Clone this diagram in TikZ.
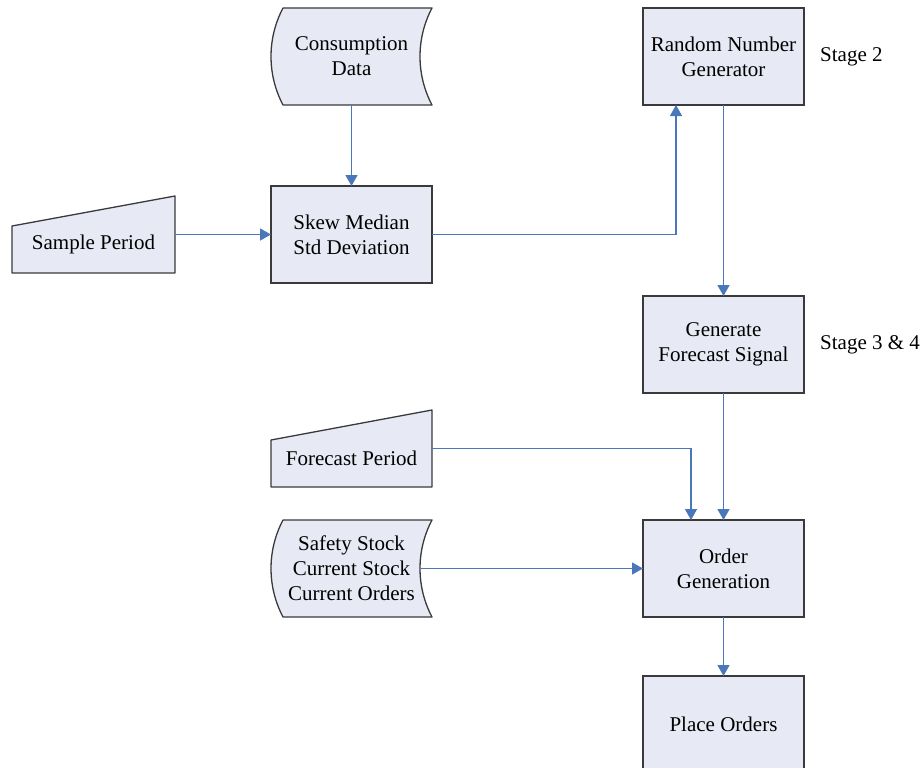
\documentclass[tikz,border=0pt]{standalone}
\usepackage{fontspec}
\setmainfont{Liberation Serif}
\usepackage{tikz}
\usetikzlibrary{positioning, arrows.meta, backgrounds}
\definecolor{boxfill}{HTML}{E7EAF4}
\definecolor{boxline}{HTML}{3A3A3A}
\definecolor{flowblue}{HTML}{4A76BA}
\tikzstyle{process} = [rectangle, minimum width=161pt, minimum height=97pt, align=center, draw=boxline, fill=boxfill, line width=1.3pt, outer sep=0pt]
\tikzstyle{datastore} = [rectangle, minimum width=161pt, minimum height=97pt, align=center, outer sep=0pt]
\tikzstyle{manual} = [rectangle, minimum width=161pt, minimum height=77pt, outer sep=0pt]
\tikzstyle{stagelabel} = [inner sep=0pt, anchor=west]
\tikzstyle{shapeline} = [draw=boxline, fill=boxfill, line width=1.3pt, line join=round]
\tikzstyle{flow} = [draw=flowblue, line width=1.3pt, -{Triangle[length=11pt,width=12pt]}]
% stored data outline round a datastore node
\newcommand{\storeddata}[1]{%
  \path[shapeline] ([xshift=12pt]#1.north west) -- (#1.north east)
    arc[start angle=152.2, end angle=207.8, radius=104pt]
    -- ([xshift=12pt]#1.south west)
    arc[start angle=207.8, end angle=152.2, radius=104pt] -- cycle;}
% manual input outline round a manual node
\newcommand{\manualinput}[1]{%
  \path[shapeline] ([yshift=-30pt]#1.north west) -- (#1.north east) -- (#1.south east) -- (#1.south west) -- cycle;}

\begin{document}
\begin{tikzpicture}[every node/.style={font=\fontsize{21}{25}\selectfont}]
    \useasboundingbox (0,0) rectangle (924pt,-768pt);
    \node[datastore] (cons) at (351.5pt,-56.5pt) {Consumption\\Data};
    \node[process, right=211pt of cons] (rng) {Random Number\\Generator};
    \node[stagelabel, right=16pt of rng] (stage2) {Stage 2};
    \node[process, below=81pt of cons] (skew) {Skew Median\\Std Deviation};
    \node[manual, minimum width=163pt, left=96pt of skew] (sample) {};
    \node (sampletxt) at ([yshift=-10pt]sample.center) {Sample Period};
    \node[process, below=191pt of rng] (gen) {Generate\\Forecast Signal};
    \node[stagelabel, right=16pt of gen] (stage34) {Stage 3 \& 4};
    \node[manual, below=127pt of skew] (fcst) {};
    \node (fcsttxt) at ([yshift=-10pt]fcst.center) {Forecast Period};
    \node[process, below=127pt of gen] (order) {Order\\Generation};
    \node[datastore, left=211pt of order] (safety) {Safety Stock\\Current Stock\\Current Orders};
    \node[process, below=59pt of order] (place) {Place Orders};

    \begin{scope}[on background layer]
        \storeddata{cons}
        \storeddata{safety}
        \manualinput{sample}
        \manualinput{fcst}
    \end{scope}

    \draw[flow] (cons) -- (skew);
    \draw[flow] (sample) -- (skew);
    \draw[flow] (skew.east) -| ([xshift=-47.5pt]rng.south);
    \draw[flow] (rng) -- (gen);
    \draw[flow] (gen) -- (order);
    \draw[flow] (fcst.east) -| ([xshift=-32.5pt]order.north);
    \draw[flow] ([xshift=-11pt]safety.east) -- (order);
    \draw[flow] (order) -- (place);
\end{tikzpicture}
\end{document}
